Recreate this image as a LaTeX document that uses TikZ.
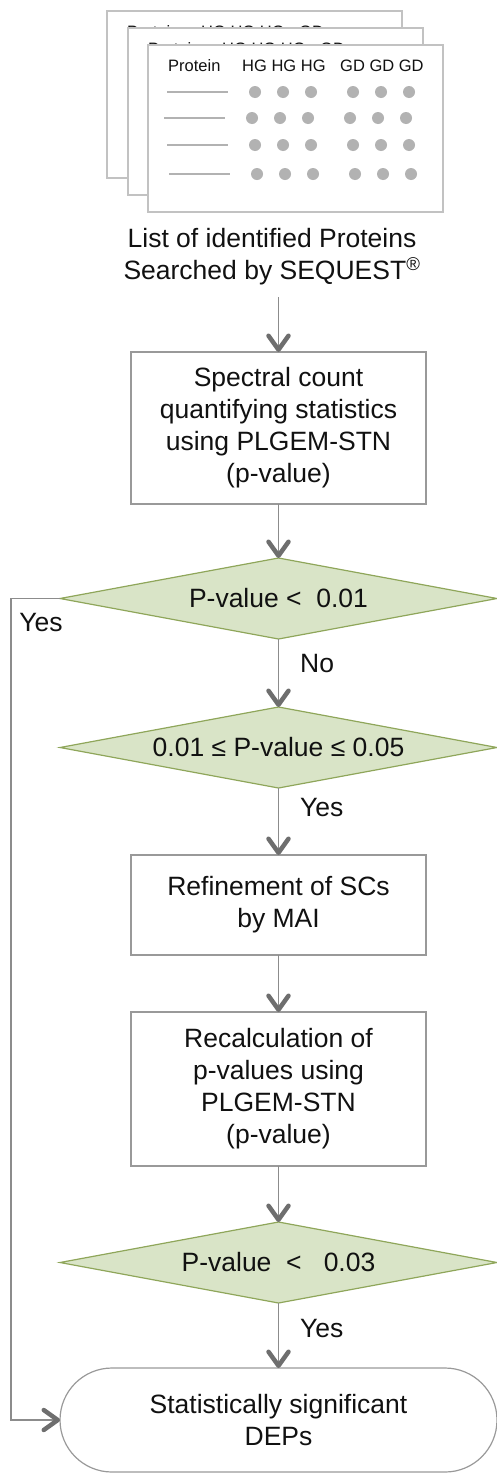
\documentclass[tikz,border=0pt]{standalone}
\usepackage{fontspec}
\setsansfont{Liberation Sans}
\usepackage{xcolor}
\definecolor{ink}{HTML}{111111}
\definecolor{frame}{HTML}{999999}
\definecolor{sheetc}{HTML}{C2C2C2}
\definecolor{markc}{HTML}{B2B2B2}
\definecolor{decisionc}{HTML}{D9E4C7}
\definecolor{decisionb}{HTML}{8FA65A}
\definecolor{shaftc}{HTML}{8C8C8C}
\definecolor{tipc}{HTML}{6E6E6E}
\usepackage{tikz}
\usetikzlibrary{arrows.meta,positioning,shapes.geometric}

\begin{document}
\begin{tikzpicture}[every node/.style={font=\sffamily\fontsize{26.5}{32}\selectfont,text=ink}]
\tikzstyle{box}=[draw=frame,line width=1.2pt,fill=white,minimum width=295pt,inner sep=0pt,outer sep=0pt,align=center]
\tikzstyle{decision}=[diamond,aspect=5.4,draw=decisionb,line width=1.2pt,fill=decisionc,minimum width=437pt,minimum height=81pt,inner sep=0pt,outer sep=0pt]
\tikzstyle{terminal}=[draw=frame,line width=1.2pt,rounded corners=52pt,minimum width=437pt,minimum height=104pt,inner sep=0pt,outer sep=0pt,align=center]
\tikzstyle{arr}=[shaftc,line width=1.2pt,-{Straight Barb[length=14pt,width=20pt,line width=4.5pt,round,color=tipc]}]
\tikzstyle{lbl}=[inner sep=0pt]
\tikzstyle{sheettext}=[inner sep=0pt,anchor=west,font=\sffamily\fontsize{16.5}{20}\selectfont]
\useasboundingbox (0,0) rectangle (497pt,-1475pt);
% stacked result sheets
\foreach \sx/\sy/\gd [count=\k] in {107/11/GD,128/28/GD,148/45/GD GD GD}{
  \begin{scope}[shift={(\sx pt,-\sy pt)}]
    \draw[sheetc,line width=1.5pt,fill=white] (0,0) rectangle (295pt,-167pt);
    \node[sheettext] (prot\k) at (20pt,-21pt) {Protein};
    \node[sheettext] (hg\k) at (94pt,-21pt) {HG HG HG};
    \node[sheettext] (gd\k) at (192pt,-21pt) {\gd};
  \end{scope}
}
\begin{scope}[shift={(148pt,-45pt)}]
  \foreach \ry/\rx in {47/0,73/-3,100/0,129/2}{
    \draw[markc,line width=2.8pt] (19pt+\rx pt,-\ry pt) -- (80pt+\rx pt,-\ry pt);
    \foreach \cx in {107,135,163,205,233,261}
      \fill[markc] (\cx pt+\rx pt,-\ry pt) circle (6pt);
  }
\end{scope}
\node[align=center] (caption) at (272pt,-257pt) {List of identified Proteins\\Searched by SEQUEST\textsuperscript{®}};
\coordinate (capfoot) at (278.5pt,-297pt);
\node[box,minimum height=152pt] (quant) at (278.5pt,-428pt) {Spectral count\\quantifying statistics\\using PLGEM-STN\\(p-value)};
\node[decision,below=54pt of quant] (d1) {P-value <\ \ 0.01};
\node[decision,below=68pt of d1] (d2) {0.01 ≤ P-value ≤ 0.05};
\node[box,minimum height=100pt,below=67pt of d2] (refine) {Refinement of SCs\\by MAI};
\node[box,minimum height=154pt,below=57pt of refine] (recalc) {Recalculation of\\p-values using\\PLGEM-STN\\(p-value)};
\node[decision,below=56pt of recalc] (d3) {P-value \ <\ \ \ 0.03};
\node[terminal,below=65pt of d3] (deps) {Statistically significant\\DEPs};
\node[lbl,anchor=west] (no1) at (300pt,-664pt) {No};
\node[lbl,anchor=west] (yes2) at (300pt,-808pt) {Yes};
\node[lbl,anchor=west] (yes3) at (300pt,-1328pt) {Yes};
\node[lbl] (yes1) at (41pt,-623pt) {Yes};
\draw[arr] (capfoot)--(quant);
\draw[arr] (quant)--(d1);
\draw[arr] (d1)--(d2);
\draw[arr] (d2)--(refine);
\draw[arr] (refine)--(recalc);
\draw[arr] (recalc)--(d3);
\draw[arr] (d3)--(deps);
\draw[arr] (d1.west)--++(-49pt,0) |- (deps.west);
\end{tikzpicture}
\end{document}
